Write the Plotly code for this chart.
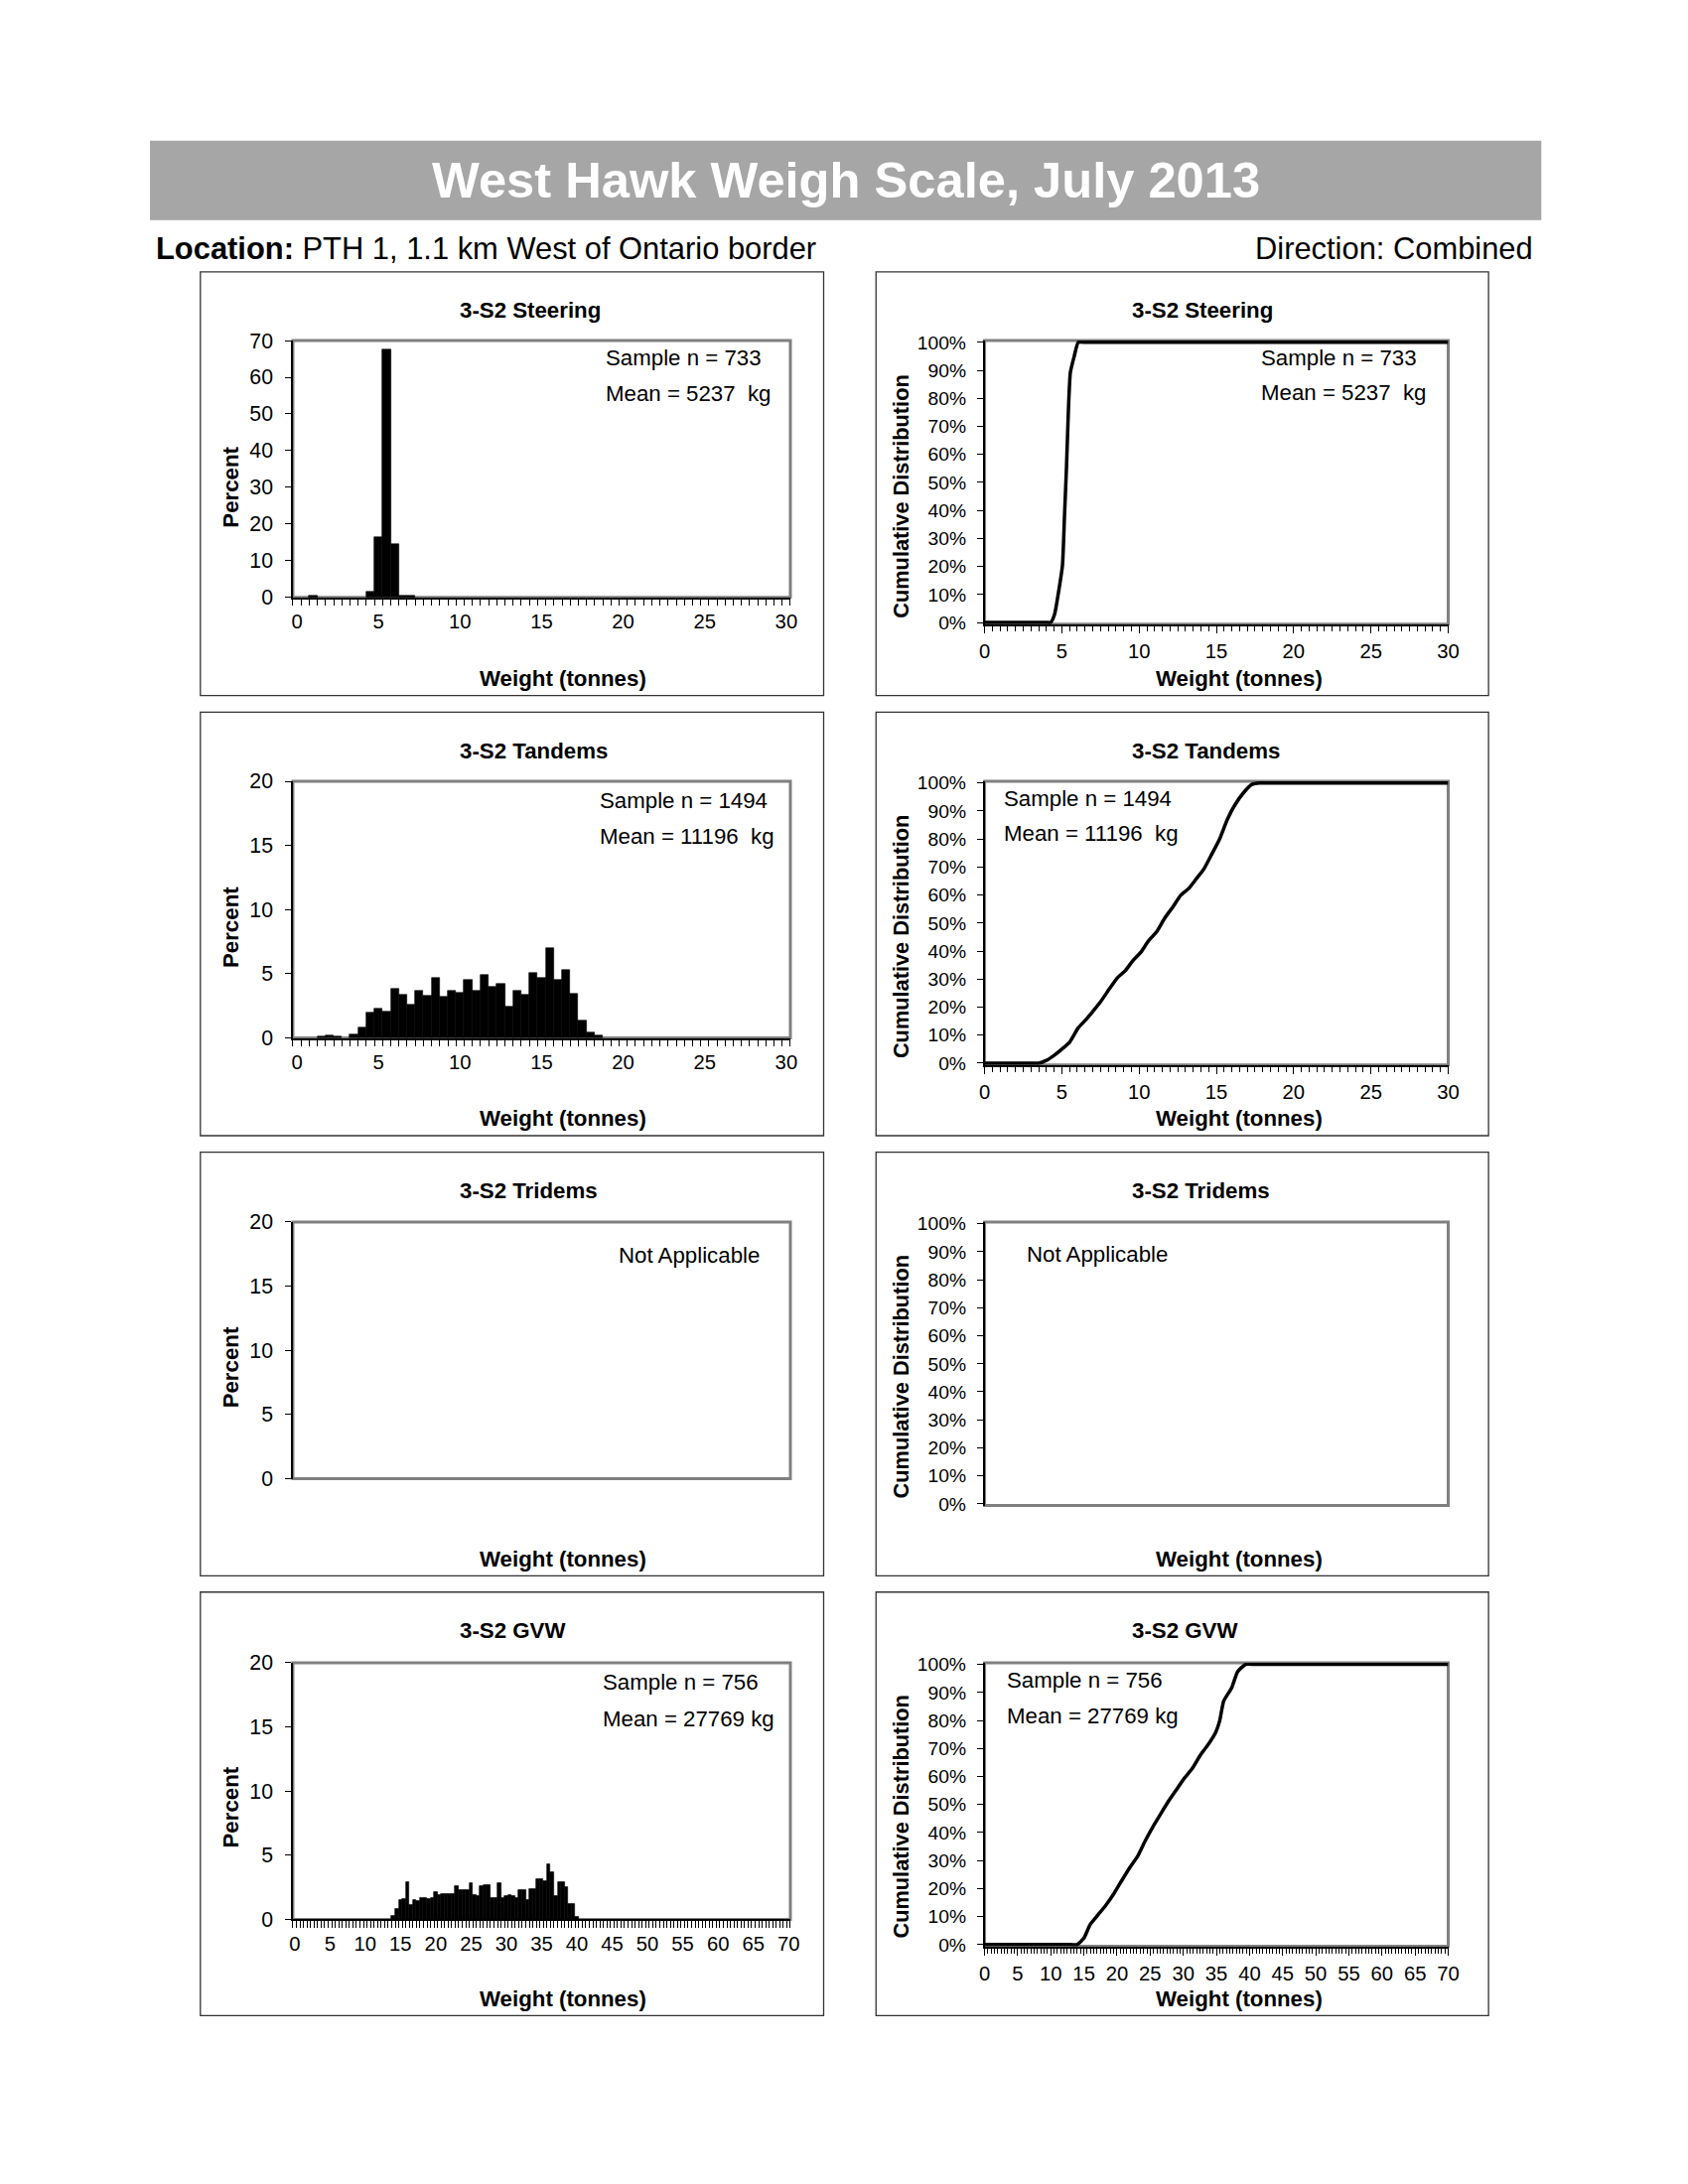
import plotly.graph_objects as go

# ------------------------------------------------------------------ data
panel_titles = ["3-S2 Steering", "3-S2 Tandems", "3-S2 Tridems", "3-S2 GVW"]
sample_text = ["Sample n = 733", "Sample n = 1494", None, "Sample n = 756"]
mean_text = ["Mean = 5237\u00a0 kg", "Mean = 11196\u00a0 kg", None, "Mean = 27769 kg"]
na_text = "Not Applicable"

# histogram categories (tonnes) and percent
steer_hist_x = [1.0, 4.5, 5.0, 5.5, 6.0, 6.5, 7.0]
steer_hist_pct = [0.5, 1.5, 16.5, 67.5, 14.5, 0.5, 0.3]

tandem_hist_x = [1.5, 2.0, 2.5, 3.5, 4.0, 4.5, 5.0, 5.5, 6.0, 6.5, 7.0, 7.5, 8.0, 8.5,
                 9.0, 9.5, 10.0, 10.5, 11.0, 11.5, 12.0, 12.5, 13.0, 13.5, 14.0, 14.5,
                 15.0, 15.5, 16.0, 16.5, 17.0, 17.5, 18.0, 18.5]
tandem_hist_pct = [0.13, 0.2, 0.13, 0.3, 0.8, 1.95, 2.3, 2.05, 3.8, 3.4, 2.6, 3.7, 3.3, 4.7,
                   3.2, 3.65, 3.55, 4.55, 3.7, 4.95, 4.0, 4.2, 2.45, 3.65, 3.35, 5.05,
                   4.7, 7.0, 4.5, 5.3, 3.45, 1.35, 0.4, 0.2]

gvw_hist_x = [14.0, 14.5, 15.0, 15.5, 16.0, 16.5, 17.0, 17.5, 18.0, 18.5, 19.0, 19.5,
              20.0, 20.5, 21.0, 21.5, 22.0, 22.5, 23.0, 23.5, 24.0, 24.5, 25.0, 25.5,
              26.0, 26.5, 27.0, 27.5, 28.0, 28.5, 29.0, 29.5, 30.0, 30.5, 31.0, 31.5,
              32.0, 32.5, 33.0, 33.5, 34.0, 34.5, 35.0, 35.5, 36.0, 36.5, 37.0, 37.5,
              38.0, 38.5, 39.0, 39.5, 40.0]
gvw_hist_pct = [0.3, 0.8, 1.5, 1.6, 2.9, 1.1, 1.5, 1.4, 1.7, 1.7, 1.6, 1.7,
                2.1, 1.9, 2.0, 2.0, 2.0, 2.0, 2.6, 2.3, 2.3, 2.3, 2.8, 1.9,
                1.8, 2.6, 2.7, 2.7, 1.7, 1.7, 2.8, 1.7, 1.8, 1.9, 1.8, 1.7,
                2.3, 2.3, 1.5, 2.4, 2.4, 3.1, 3.1, 3.0, 4.3, 3.7, 1.8, 2.9,
                2.9, 2.5, 1.2, 1.2, 0.2]

# cumulative distributions (tonnes, percent)
steer_cum_x = [0, 4.0, 4.28, 4.53, 4.79, 5.04, 5.17, 5.3, 5.42, 5.55, 5.8, 6.06, 6.6, 30]
steer_cum_pct = [0, 0, 0, 2.9, 11, 20.4, 37.9, 55.4, 75.2, 89.2, 95, 100, 100, 100]

tandem_cum_x = [0, 3.0, 3.5, 4.0, 4.5, 5.0, 5.5, 6.06, 6.57, 7.08, 7.59, 8.1, 8.6, 9.1, 9.6,
                10.1, 10.6, 11.15, 11.66, 12.2, 12.7, 13.2, 13.7, 14.2, 14.7, 15.2,
                15.7, 16.2, 16.8, 17.3, 17.8, 18.6, 30]
tandem_cum_pct = [0, 0, 0, 1.0, 2.8, 5.0, 7.5, 12.6, 15.6, 19, 22.6, 26.7, 30.5, 33, 36.6,
                  39.5, 43.6, 47, 51.8, 55.9, 60, 62.3, 65.8, 69.4, 74.6, 79.9,
                  86.9, 92.2, 96.8, 99.5, 100, 100, 100]

gvw_cum_x = [0, 13.0, 13.96, 15.0, 15.9, 17.1, 18.3, 19.5, 20.7, 21.9, 23.1, 24.2, 25.4, 26.6,
             27.8, 29.0, 30.2, 31.4, 32.6, 33.7, 34.9, 35.5, 36.1, 37.3, 38.2, 39.4, 41.0, 70]
gvw_cum_pct = [0, 0, 0, 2.3, 7, 10.5, 14, 18.1, 22.8, 27.4, 31.5, 36.8, 42, 46.7,
               51.3, 55.4, 59.5, 63, 67.7, 71.2, 75.8, 79.9, 86.9, 91.6, 97.4, 100, 100, 100]

hist_xmax = [30, 30, 30, 70]
hist_ymax = [70, 20, 20, 20]
hist_ytick_step = [10, 5, 5, 5]
cum_ticks = list(range(0, 101, 10))
cum_ticktext = [f"{v}%" for v in cum_ticks]

# ------------------------------------------------------------------ layout helpers
W, H = 1700, 2200
FONT = "Liberation Sans, Arial, Helvetica, sans-serif"
GRAY_FRAME = "#808080"
FS = 1.013  # font scale


def tx(x):
    return (x - 6.4) / 0.987


def ty(y):
    return (y - 11.6) / 0.987


def px(x):
    return tx(x) / W


def py(y):
    return 1 - ty(y) / H


panel_top = [273, 715.4, 1157.8, 1600]
panel_h = 425.8
left_panel = (201.6, 827.4)
right_panel = (880, 1495)
plot_top = [342, 785, 1228, 1671]
left_plot_x = (294.5, 794)
right_plot_x = (989, 1454.5)
left_plot_h = 258
right_plot_h = 285

fig = go.Figure()

hist_data = [(steer_hist_x, steer_hist_pct), (tandem_hist_x, tandem_hist_pct), None,
             (gvw_hist_x, gvw_hist_pct)]
cum_data = [(steer_cum_x, steer_cum_pct), (tandem_cum_x, tandem_cum_pct), None,
            (gvw_cum_x, gvw_cum_pct)]

layout_axes = {}
shapes = []
annotations = []


def ann(x, y, text, size=22, bold=False, xanchor="left", color="black", angle=0):
    annotations.append(dict(
        x=px(x), y=py(y), xref="paper", yref="paper",
        text=f"<b>{text}</b>" if bold else text, showarrow=False,
        xanchor=xanchor, yanchor="middle", textangle=angle,
        font=dict(family=FONT, size=size * FS, color=color)))


for r in range(4):
    nL = 2 * r + 1
    nR = 2 * r + 2
    xL = "x" if nL == 1 else f"x{nL}"
    yL = "y" if nL == 1 else f"y{nL}"
    xR, yR = f"x{nR}", f"y{nR}"
    xmax = hist_xmax[r]
    applicable = hist_data[r] is not None

    # ---------- left: histogram
    if applicable:
        hx, hy = hist_data[r]
        fig.add_trace(go.Bar(x=hx, y=hy, width=0.5, xaxis=xL, yaxis=yL,
                             marker=dict(color="black", line=dict(color="black", width=0.6)),
                             showlegend=False, hoverinfo="skip"))
    else:
        fig.add_trace(go.Scatter(x=[], y=[], xaxis=xL, yaxis=yL, showlegend=False))

    bounds = [-0.25 + 0.5 * k for k in range(int(xmax * 2) + 2)]
    xa = dict(domain=[px(left_plot_x[0]), px(left_plot_x[1])], anchor=yL,
              range=[-0.25, xmax + 0.25], showgrid=False, zeroline=False,
              fixedrange=True)
    if applicable:
        xa.update(tickvals=list(range(0, xmax + 1, 5)), ticks="",
                  showline=True, linecolor="black", linewidth=1.5,
                  ticklabelstandoff=5,
                  tickfont=dict(family=FONT, size=20 * FS, color="black"),
                  minor=dict(tickvals=bounds, ticks="outside", ticklen=7,
                             tickcolor="black", tickwidth=1))
    else:
        xa.update(showticklabels=False, ticks="", showline=False)
    ymax = hist_ymax[r]
    ya = dict(domain=[py(plot_top[r] + left_plot_h), py(plot_top[r])], anchor=xL,
              range=[0, ymax], tickvals=list(range(0, ymax + 1, hist_ytick_step[r])),
              showgrid=False, zeroline=False, fixedrange=True,
              ticks="outside", ticklen=6, tickcolor="black",
              showline=True, linecolor="black", linewidth=1.5,
              ticklabelstandoff=8,
              tickfont=dict(family=FONT, size=21 * FS, color="black"))
    layout_axes["xaxis" if nL == 1 else f"xaxis{nL}"] = xa
    layout_axes["yaxis" if nL == 1 else f"yaxis{nL}"] = ya

    # ---------- right: cumulative
    if applicable:
        cx, cy = cum_data[r]
        fig.add_trace(go.Scatter(x=cx, y=cy, mode="lines", xaxis=xR, yaxis=yR,
                                 line=dict(color="black", width=3.5, shape="spline",
                                           smoothing=0.5),
                                 showlegend=False, hoverinfo="skip"))
    else:
        fig.add_trace(go.Scatter(x=[], y=[], xaxis=xR, yaxis=yR, showlegend=False))

    xa = dict(domain=[px(right_plot_x[0]), px(right_plot_x[1])], anchor=yR,
              range=[0, xmax], showgrid=False, zeroline=False, fixedrange=True)
    if applicable:
        xa.update(tickvals=list(range(0, xmax + 1, 5)), ticks="outside", ticklen=8,
                  tickcolor="black", tickwidth=1,
                  showline=True, linecolor="black", linewidth=1.5,
                  tickfont=dict(family=FONT, size=20 * FS, color="black"),
                  minor=dict(dtick=0.5, tick0=0, ticks="outside", ticklen=6,
                             tickcolor="black", tickwidth=1))
    else:
        xa.update(showticklabels=False, ticks="", showline=False)
    ya = dict(domain=[py(plot_top[r] + right_plot_h), py(plot_top[r])], anchor=xR,
              range=[-0.6, 100.6], tickmode="array", tickvals=cum_ticks,
              ticktext=cum_ticktext,
              showgrid=False, zeroline=False, fixedrange=True,
              ticks="outside", ticklen=6, tickcolor="black",
              showline=True, linecolor="black", linewidth=1.5,
              ticklabelstandoff=7,
              tickfont=dict(family=FONT, size=19 * FS, color="black"))
    layout_axes[f"xaxis{nR}"] = xa
    layout_axes[f"yaxis{nR}"] = ya

    # gray plot-area frames
    for n in (nL, nR):
        xr = "x domain" if n == 1 else f"x{n} domain"
        yr = "y domain" if n == 1 else f"y{n} domain"
        shapes.append(dict(type="rect", xref=xr, yref=yr, x0=0, x1=1, y0=0, y1=1,
                           line=dict(color=GRAY_FRAME, width=3), layer="below"))

    # panel borders
    for (a, b) in (left_panel, right_panel):
        shapes.append(dict(type="rect", xref="paper", yref="paper",
                           x0=px(a), x1=px(b), y0=py(panel_top[r] + panel_h),
                           y1=py(panel_top[r]),
                           line=dict(color="#333333", width=1.3), layer="below"))

    # panel texts
    pt = panel_top[r]
    ann(460, pt + 38.7, panel_titles[r], bold=True)
    ann(1135, pt + 38.7, panel_titles[r], bold=True)
    ann(566, pt + 408.7, "Weight (tonnes)", bold=True, xanchor="center")
    ann(1245, pt + 408.7, "Weight (tonnes)", bold=True, xanchor="center")
    ann(232, pt + 216, "Percent", bold=True, xanchor="center", angle=-90)
    ann(905, pt + 226, "Cumulative Distribution", size=21.5, bold=True,
        xanchor="center", angle=-90)

    if applicable:
        offL = [(607, 359, 395), (601, 804, 840), None, (604, 1691, 1727)][r]
        offR = [(1265, 359, 394), (1006, 802, 837), None, (1009, 1689, 1724)][r]
        ann(offL[0], offL[1], sample_text[r])
        ann(offL[0], offL[2], mean_text[r])
        ann(offR[0], offR[1], sample_text[r])
        ann(offR[0], offR[2], mean_text[r])
    else:
        ann(620, 1261, na_text)
        ann(1029, 1260, na_text)

# header
shapes.append(dict(type="rect", xref="paper", yref="paper", x0=px(151), x1=px(1548),
                   y0=py(221), y1=py(141), fillcolor="#A6A6A6", line=dict(width=0),
                   layer="below"))
ann(850, 181, "West Hawk Weigh Scale, July 2013", size=50, bold=True,
    xanchor="center", color="white")
ann(155, 250, "<b>Location:</b> PTH 1, 1.1 km West of Ontario border", size=30.5)
ann(1542, 250, "Direction: Combined", size=30.5, xanchor="right")

fig.update_layout(
    width=W, height=H, autosize=False,
    margin=dict(l=0, r=0, t=0, b=0, pad=0),
    paper_bgcolor="white", plot_bgcolor="rgba(0,0,0,0)",
    showlegend=False, bargap=0,
    font=dict(family=FONT, color="black"),
    shapes=shapes, annotations=annotations,
    **layout_axes,
)

fig.write_html(
    "out.html",
    config={"displayModeBar": False},
    post_script="document.body.style.margin='0';document.body.style.padding='0';"
                "document.body.style.overflow='hidden';",
)
